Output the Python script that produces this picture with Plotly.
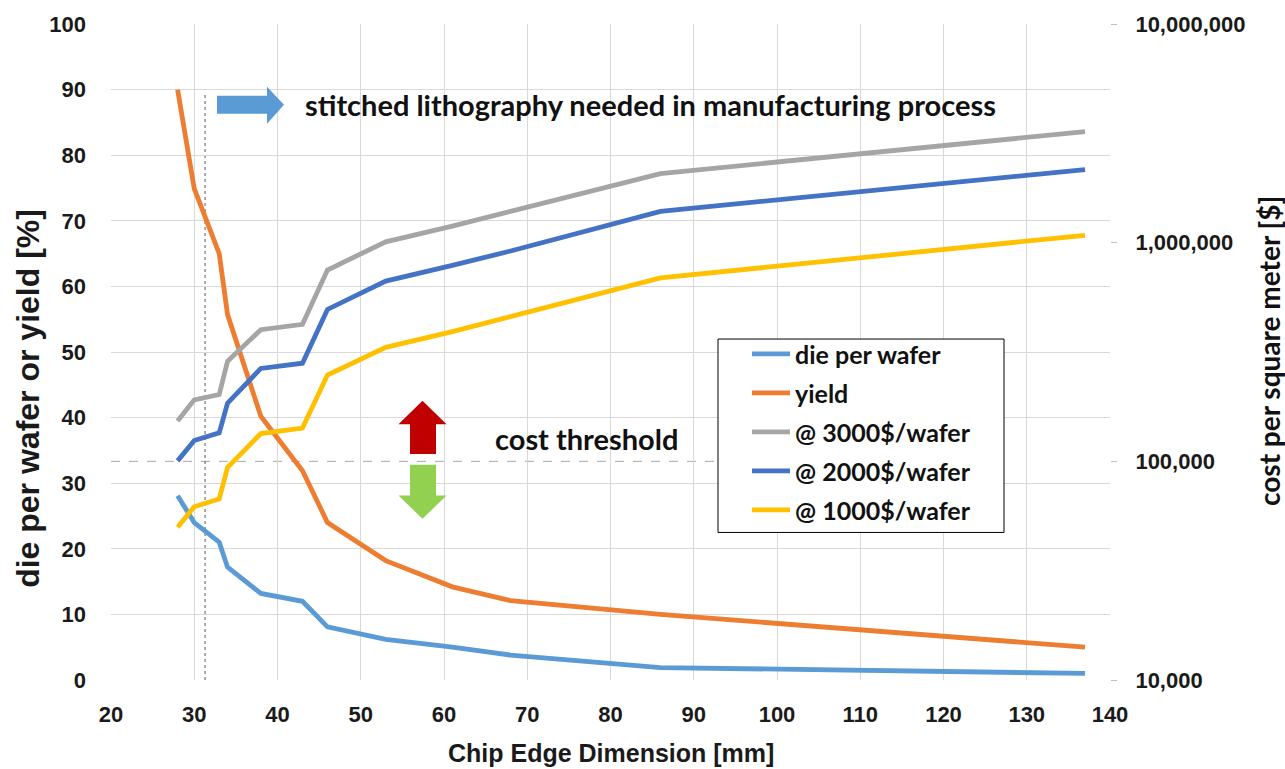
import math
import plotly.graph_objects as go

# Chip edge dimension [mm]
edge_mm = [28, 30, 33, 34, 38, 43, 46, 53, 61, 68, 86, 137]

# Left axis series [%]
die_per_wafer = [28.1, 24.0, 21.0, 17.2, 13.2, 12.0, 8.1, 6.2, 5.0, 3.8, 1.9, 1.0]
yield_pct = [90.0, 74.9, 65.0, 55.7, 40.2, 31.9, 24.0, 18.2, 14.2, 12.1, 10.0, 5.0]

# Right axis series: cost per square meter [$]
cost_3000 = [153000, 191000, 202000, 287000, 400000, 423000, 750000, 1009000, 1190000, 1390000, 2070000, 3220000]
cost_2000 = [100500, 124500, 135000, 184500, 266000, 281000, 495000, 667000, 787000, 916000, 1390000, 2160000]
cost_1000 = [50000, 62000, 67300, 93800, 134000, 142000, 248000, 332000, 392000, 459000, 690000, 1081000]

# Axis ticks
x_ticks = list(range(20, 141, 10))
left_ticks = list(range(0, 101, 10))
right_ticks = [10000, 100000, 1000000, 10000000]
right_tick_text = ["10,000", "100,000", "1,000,000", "10,000,000"]

cost_threshold = 100000
stitch_edge = 31.3

TICK_FONT = dict(family="Liberation Sans, Arial, sans-serif", size=22, color="#1a1a1a", weight="bold")
XTITLE_FONT = dict(family="Liberation Sans, Arial, sans-serif", size=25, color="#1a1a1a", weight="bold")
YTITLE_FONT = dict(family="Liberation Sans, Arial, sans-serif", size=32, color="#1a1a1a", weight="bold")
NOTE_FONT = dict(family="Lato, Open Sans, sans-serif", size=29, color="#111111", weight="bold")
LEGEND_FONT = dict(family="Lato, Open Sans, sans-serif", size=25, color="#111111", weight="bold")

fig = go.Figure()

series_left = [
    ("die per wafer", die_per_wafer, "#5B9BD5"),
    ("yield", yield_pct, "#ED7D31"),
]
series_right = [
    ("@ 3000$/wafer", cost_3000, "#A5A5A5"),
    ("@ 2000$/wafer", cost_2000, "#4472C4"),
    ("@ 1000$/wafer", cost_1000, "#FFC000"),
]

for i, (name, vals, col) in enumerate(series_left):
    fig.add_trace(go.Scatter(x=edge_mm, y=vals, name=name, mode="lines",
                             line=dict(color=col, width=4.8),
                             legendgroup=f"g{i}", yaxis="y"))
for j, (name, vals, col) in enumerate(series_right):
    fig.add_trace(go.Scatter(x=edge_mm, y=vals, name=name, mode="lines",
                             line=dict(color=col, width=4.8),
                             legendgroup=f"h{j}", yaxis="y2"))

# The left axis spans 0..100 over the same height as the 10^4..10^7 log axis
thr_left = (math.log10(cost_threshold) - 4) / 3 * 100


# helpers: layout pixels -> axis units (plot area 111..1110 x 22..680)
def px_to_x(px):
    return 20 + (px - 111) / 999 * 120


def px_to_y(py):
    return (680 - py) / 658 * 100


def to_path(pts):
    return "M " + " L ".join(f"{px_to_x(a):.3f} {px_to_y(b):.3f}" for a, b in pts) + " Z"


right_arrow = [(217, 94), (267, 94), (267, 85), (284, 103), (267, 122), (267, 112), (217, 112)]
up_arrow = [(422.5, 400), (446.5, 423.5), (436, 423.5), (436, 453.3), (410, 453.3), (410, 423.5), (398.5, 423.5)]
down_arrow = [(410, 464), (436, 464), (436, 495), (446.5, 495), (422.5, 518.3), (398.5, 495), (410, 495)]

shapes = [
    # cost threshold (dashed, runs up to the legend box)
    dict(type="line", xref="x", yref="y", x0=20, x1=px_to_x(718), y0=thr_left, y1=thr_left,
         line=dict(color="#a6a6a6", width=1, dash="dash"), layer="below"),
    # stitching limit (dotted)
    dict(type="line", xref="x", yref="y", x0=stitch_edge, x1=stitch_edge, y0=0, y1=89.5,
         line=dict(color="#595959", width=1, dash="dot"), layer="below"),
    dict(type="path", xref="x", yref="y", path=to_path(right_arrow), fillcolor="#5B9BD5", line=dict(width=0)),
    dict(type="path", xref="x", yref="y", path=to_path(up_arrow), fillcolor="#C00000", line=dict(width=0)),
    dict(type="path", xref="x", yref="y", path=to_path(down_arrow), fillcolor="#92D050", line=dict(width=0)),
    # legend frame
    dict(type="rect", xref="x", yref="y", x0=px_to_x(718), x1=px_to_x(1004), y0=px_to_y(532), y1=px_to_y(338),
         fillcolor="white", line=dict(color="#000000", width=1), layer="above"),
]

annotations = [
    dict(text="stitched lithography needed in manufacturing process", x=px_to_x(303), y=px_to_y(103),
         xref="x", yref="y", xanchor="left", yanchor="middle", showarrow=False, font=NOTE_FONT),
    dict(text="cost threshold", x=px_to_x(493), y=px_to_y(438), xref="x", yref="y",
         xanchor="left", yanchor="middle", showarrow=False, font=NOTE_FONT),
    dict(text="Chip Edge Dimension [mm]", x=0.5, y=-0.111, xref="paper", yref="paper",
         xanchor="center", yanchor="middle", showarrow=False, font=XTITLE_FONT),
    dict(text="die per wafer or yield [%]", x=(28 - 111) / 999, y=(680 - 398) / 658, xref="paper", yref="paper",
         xanchor="center", yanchor="middle", textangle=-90, showarrow=False, font=YTITLE_FONT),
    dict(text="cost per square meter [$]", x=(1269 - 111) / 999, y=(680 - 350) / 658, xref="paper", yref="paper",
         xanchor="center", yanchor="middle", textangle=-90, showarrow=False,
         font=dict(family="Lato, Open Sans, sans-serif", size=28, color="#111111", weight="bold")),
]

fig.update_layout(
    width=1285, height=769,
    margin=dict(l=111, r=175, t=22, b=89),
    paper_bgcolor="white", plot_bgcolor="white",
    showlegend=True,
    legend=dict(x=(747 - 111) / 999, y=(680 - 330) / 658, xanchor="left", yanchor="top",
                bgcolor="rgba(0,0,0,0)", borderwidth=0,
                font=LEGEND_FONT, tracegroupgap=3.5, itemwidth=38),
    xaxis=dict(range=[20, 140], tickvals=x_ticks, showgrid=True, gridcolor="#d9d9d9", gridwidth=1,
               zeroline=False, showline=False, ticks="", tickfont=TICK_FONT, ticklabelstandoff=19),
    yaxis=dict(range=[0, 100], tickvals=left_ticks, showgrid=True, gridcolor="#d9d9d9", gridwidth=1,
               zeroline=False, showline=False, ticks="", tickfont=TICK_FONT, ticklabelstandoff=24),
    yaxis2=dict(type="log", range=[4, 7], overlaying="y", side="right", tickvals=right_ticks,
                ticktext=right_tick_text, showgrid=False, zeroline=False, showline=False,
                ticks="outside", ticklen=6, tickcolor="#bfbfbf", tickfont=TICK_FONT,
                ticklabelstandoff=14),
    shapes=shapes,
    annotations=annotations,
)

fig.write_html("out.html")
